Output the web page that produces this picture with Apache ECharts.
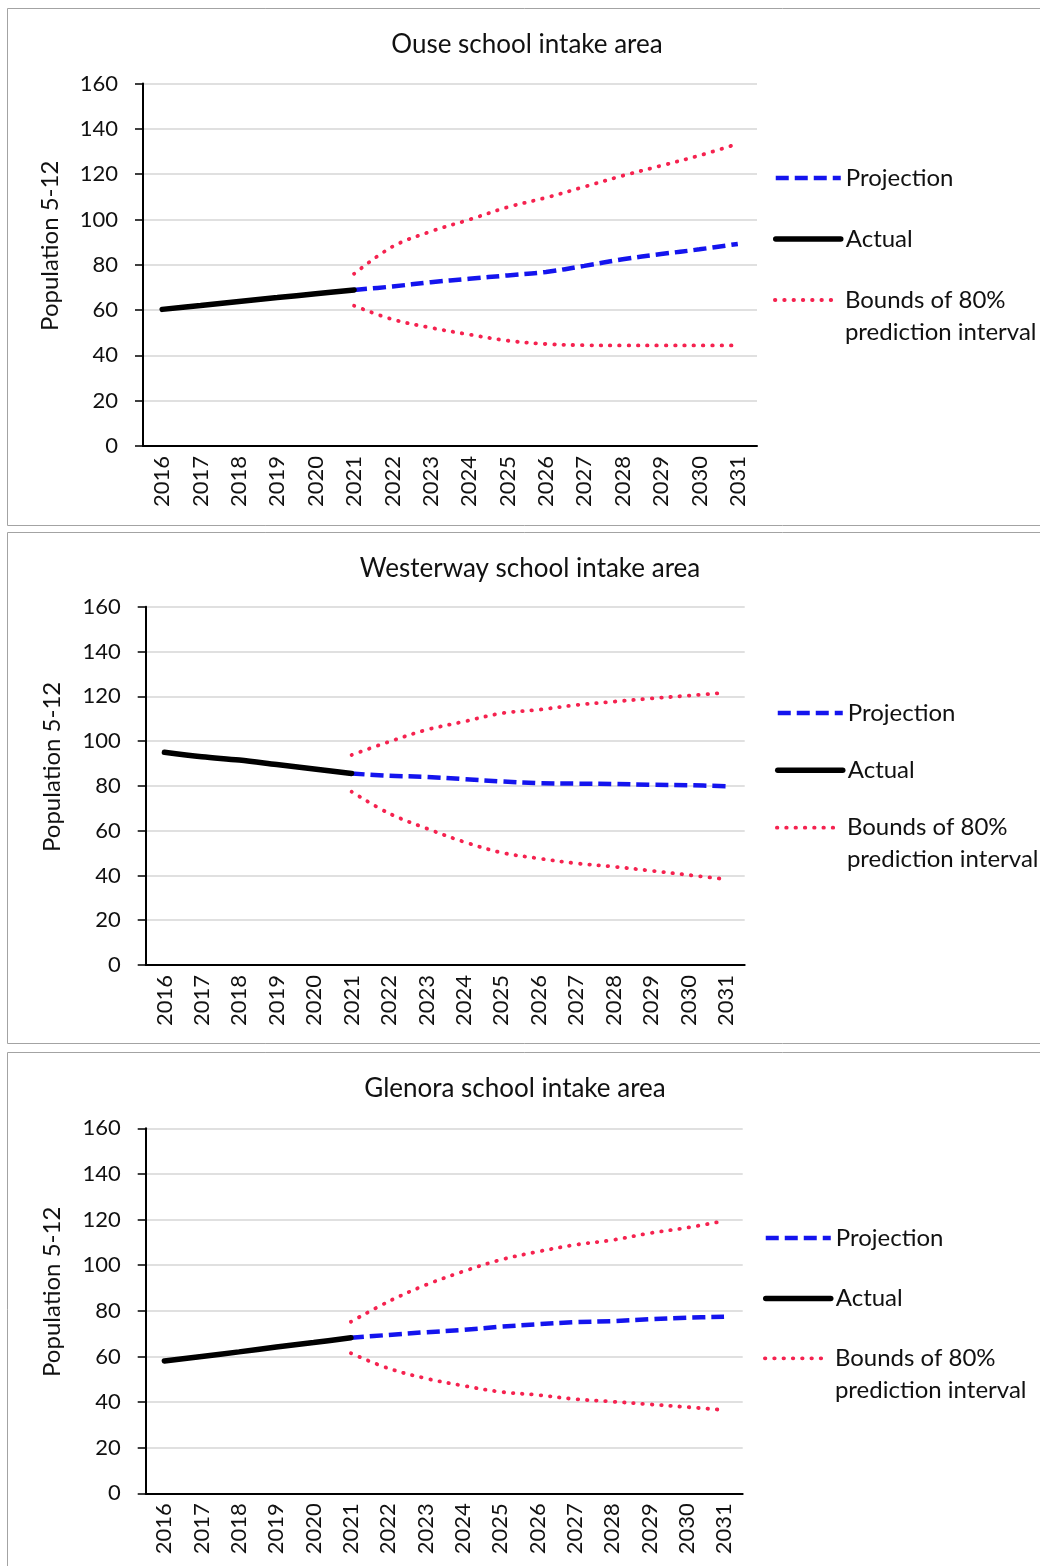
<!DOCTYPE html>
<html>
<head>
<meta charset="utf-8">
<script src="https://cdn.jsdelivr.net/npm/echarts@6/dist/echarts.min.js"></script>
<style>
  html, body { margin: 0; padding: 0; background: #ffffff; }
  #chart { width: 1040px; height: 1566px; }
</style>
</head>
<body>
<div id="chart"></div>
<script>
// Years on the horizontal axis
const years = ['2016','2017','2018','2019','2020','2021','2022','2023','2024','2025','2026','2027','2028','2029','2030','2031'];
const yTicks = [0, 20, 40, 60, 80, 100, 120, 140, 160];

// Ouse: actual 2016-2021, projection and 80% bounds 2021-2031
const ouseActual     = [60.3, 62.0, 63.8, 65.5, 67.2, 68.9];
const ouseProjection = [68.9, 70.4, 72.3, 73.8, 75.3, 76.8, 79.5, 82.4, 84.7, 86.8, 89.2];
const ouseUpper      = [76.0, 88.0, 94.7, 99.9, 105.4, 109.6, 114.4, 119.3, 123.7, 128.2, 133.4];
const ouseLower      = [61.9, 55.9, 52.2, 49.2, 46.5, 45.0, 44.5, 44.4, 44.4, 44.4, 44.4];

// Westerway
const westActual     = [95.0, 93.0, 91.5, 89.5, 87.5, 85.5];
const westProjection = [85.5, 84.5, 84.0, 83.0, 82.0, 81.2, 81.0, 80.8, 80.5, 80.3, 79.8];
const westUpper      = [93.8, 99.7, 105.0, 108.7, 112.4, 114.0, 116.1, 117.6, 119.0, 120.3, 121.6];
const westLower      = [77.4, 67.7, 61.0, 55.0, 50.2, 47.6, 45.4, 43.9, 42.1, 40.2, 38.3];

// Glenora
const glenActual     = [58.0, 60.0, 62.0, 64.1, 66.1, 68.2];
const glenProjection = [68.2, 69.4, 70.6, 71.6, 73.0, 74.1, 75.0, 75.5, 76.3, 77.0, 77.4];
const glenUpper      = [75.2, 84.0, 91.3, 97.2, 102.3, 105.9, 108.9, 111.0, 114.0, 116.4, 119.4];
const glenLower      = [61.4, 54.8, 50.4, 47.2, 44.5, 43.1, 41.3, 40.2, 39.0, 37.8, 36.5];

const titles = ['Ouse school intake area', 'Westerway school intake area', 'Glenora school intake area'];
const yName = 'Population 5-12';
const NAME_PROJ = 'Projection';
const NAME_ACT = 'Actual';
const NAME_BOUNDS = 'Bounds of 80% prediction interval';

const FONT = 'Lato, "Open Sans", sans-serif';
const TEXT = '#111111';
const BLUE = '#1414ee';
const RED = '#f5224f';

// Layout of the three stacked panels: frame, plot area, title centre, legend rows
const panels = [
  { frame: [7, 8, 1100, 517],    grid: { left: 143, top: 83.5, width: 614, height: 362.5 },  titleX: 527, titleY: 30,
    legend: { left: 773, top: 162, gap: 29, boundsY: 300 } },
  { frame: [7, 532, 1100, 511],  grid: { left: 145.7, top: 606.7, width: 599, height: 358.3 }, titleX: 530, titleY: 554,
    legend: { left: 775, top: 697, gap: 25.3, boundsY: 827.7 } },
  { frame: [7, 1052, 1100, 600], grid: { left: 145.7, top: 1128.3, width: 597, height: 365 },  titleX: 515, titleY: 1074,
    legend: { left: 763, top: 1222, gap: 28.6, boundsY: 1358.3 } }
];

const datasets = [
  { actual: ouseActual, projection: ouseProjection, upper: ouseUpper, lower: ouseLower },
  { actual: westActual, projection: westProjection, upper: westUpper, lower: westLower },
  { actual: glenActual, projection: glenProjection, upper: glenUpper, lower: glenLower }
];

// Place a short series on the full year axis (actual from the start, forecasts from 2021)
function padFront(values) {
  return new Array(years.length - values.length).fill(null).concat(values);
}
function padBack(values) {
  return values.concat(new Array(years.length - values.length).fill(null));
}

const LEGEND_LINE_H = 32;
const legendBase = {
  orient: 'vertical', padding: 0, itemWidth: 65, itemHeight: 14, selectedMode: false,
  textStyle: { fontFamily: FONT, fontSize: 24, color: TEXT, lineHeight: LEGEND_LINE_H },
  lineStyle: { width: 'inherit', type: 'inherit', cap: 'inherit' },
  itemStyle: { opacity: 0 }
};

const grids = [], xAxes = [], yAxes = [], series = [], titleList = [], legends = [], graphics = [];

panels.forEach((p, i) => {
  const d = datasets[i];
  graphics.push({
    type: 'rect', silent: true,
    shape: { x: p.frame[0] + 0.5, y: p.frame[1] + 0.5, width: p.frame[2], height: p.frame[3] },
    style: { fill: 'none', stroke: '#a3a3a3', lineWidth: 1 }
  });
  grids.push(Object.assign({ containLabel: false }, p.grid));
  titleList.push({
    text: titles[i], left: p.titleX, top: p.titleY, textAlign: 'center', padding: 0,
    textStyle: { fontFamily: FONT, fontSize: 26, fontWeight: 'normal', color: TEXT, lineHeight: 30 }
  });
  xAxes.push({
    type: 'category', gridIndex: i, data: years, boundaryGap: true,
    axisLine: { lineStyle: { color: '#000', width: 2 } },
    axisTick: { show: false },
    axisLabel: { rotate: 90, margin: 10, fontFamily: FONT, fontSize: 22, color: TEXT, interval: 0 },
    splitLine: { show: false }
  });
  yAxes.push({
    type: 'value', gridIndex: i, min: yTicks[0], max: yTicks[yTicks.length - 1], interval: yTicks[1] - yTicks[0],
    name: yName, nameLocation: 'middle', nameGap: 81, nameRotate: 90,
    nameTextStyle: { fontFamily: FONT, fontSize: 24, color: TEXT, padding: [0, 0, 0, 38] },
    axisLine: { show: true, lineStyle: { color: '#000', width: 2 } },
    axisTick: { show: true, length: 8, lineStyle: { color: '#000', width: 1.5 } },
    axisLabel: { margin: 25, fontFamily: FONT, fontSize: 22, color: TEXT },
    splitLine: { show: true, lineStyle: { color: '#d6d6d6', width: 1.5 } }
  });
  const common = { type: 'line', xAxisIndex: i, yAxisIndex: i, symbol: 'none', smooth: 0.35, connectNulls: false, animation: false, silent: true };
  const boundsStyle = { color: RED, width: 3.8, type: [0.5, 8.8], cap: 'round' };
  series.push(Object.assign({}, common, {
    name: NAME_BOUNDS, data: padFront(d.upper), z: 2, lineStyle: boundsStyle, itemStyle: { color: RED }
  }));
  series.push(Object.assign({}, common, {
    name: NAME_BOUNDS, data: padFront(d.lower), z: 2, lineStyle: boundsStyle, itemStyle: { color: RED }
  }));
  series.push(Object.assign({}, common, {
    name: NAME_PROJ, data: padFront(d.projection), z: 3,
    lineStyle: { color: BLUE, width: 4.5, type: [13, 6] }, itemStyle: { color: BLUE }
  }));
  series.push(Object.assign({}, common, {
    name: NAME_ACT, data: padBack(d.actual), z: 4,
    lineStyle: { color: '#000', width: 5.5, cap: 'round' }, itemStyle: { color: '#000' }
  }));
  // Projection and Actual entries
  legends.push(Object.assign({}, legendBase, {
    left: p.legend.left, top: p.legend.top, itemGap: p.legend.gap,
    data: [NAME_PROJ, NAME_ACT]
  }));
  // Bounds entry: the sample line sits beside the first of its two text rows
  legends.push(Object.assign({}, legendBase, {
    left: p.legend.left, top: p.legend.boundsY - 1.5 * LEGEND_LINE_H,
    formatter: () => '\nBounds of 80%\nprediction interval',
    data: [NAME_BOUNDS]
  }));
});

const chart = echarts.init(document.getElementById('chart'), null, { renderer: 'canvas' });
chart.setOption({
  backgroundColor: '#ffffff',
  animation: false,
  title: titleList,
  legend: legends,
  grid: grids,
  xAxis: xAxes,
  yAxis: yAxes,
  series: series,
  graphic: graphics
});
</script>
</body>
</html>
